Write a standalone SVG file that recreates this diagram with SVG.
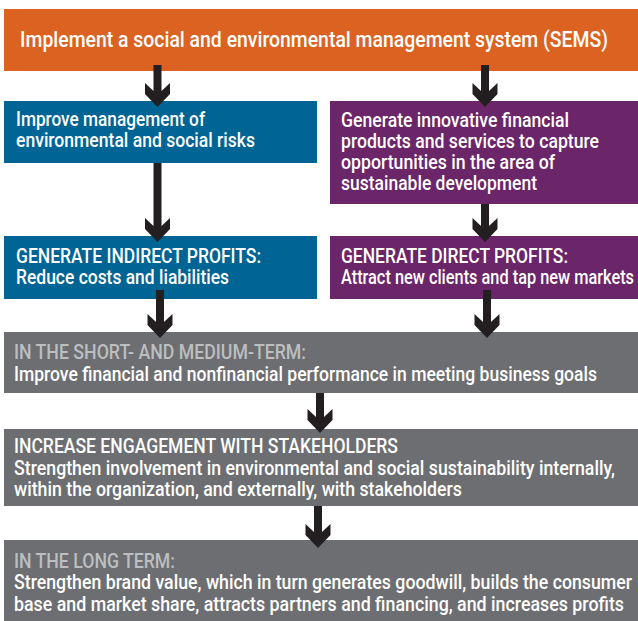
<svg xmlns="http://www.w3.org/2000/svg" width="638" height="621" viewBox="0 0 638 621">
<defs>
<style>
.t{font-family:Roboto,"Liberation Sans",sans-serif;font-size:20px;font-weight:500;fill:#ffffff;}
.h{font-family:Roboto,"Liberation Sans",sans-serif;font-size:20px;font-weight:500;fill:#bcbec0;}
.o{fill:#db6220}.b{fill:#006494}.p{fill:#6b2569}.g{fill:#6d6e71}
.arr{fill:#231f20}
</style>
</defs>
<rect width="638" height="621" fill="#ffffff"/>
<g id="sems">
<rect class="o" x="4" y="9" width="634" height="62"/>
<text class="t" x="20" y="47" style="font-size:22px" textLength="588" lengthAdjust="spacingAndGlyphs">Implement a social and environmental management system (SEMS)</text>
</g>
<g id="risks">
<rect class="b" x="4" y="101" width="313" height="62"/>
<text class="t" x="16" y="126" textLength="189" lengthAdjust="spacingAndGlyphs">Improve management of</text>
<text class="t" x="16" y="147" textLength="239" lengthAdjust="spacingAndGlyphs">environmental and social risks</text>
</g>
<g id="products">
<rect class="p" x="330" y="101" width="308" height="103"/>
<text class="t" x="341" y="127" textLength="228" lengthAdjust="spacingAndGlyphs">Generate innovative financial</text>
<text class="t" x="341" y="148" textLength="258" lengthAdjust="spacingAndGlyphs">products and services to capture</text>
<text class="t" x="341" y="169" textLength="214" lengthAdjust="spacingAndGlyphs">opportunities in the area of</text>
<text class="t" x="341" y="190" textLength="196" lengthAdjust="spacingAndGlyphs">sustainable development</text>
</g>
<g id="indirect">
<rect class="b" x="4" y="236" width="313" height="63"/>
<text class="t" x="16" y="263" textLength="245" lengthAdjust="spacingAndGlyphs">GENERATE INDIRECT PROFITS:</text>
<text class="t" x="16" y="284" textLength="213" lengthAdjust="spacingAndGlyphs">Reduce costs and liabilities</text>
</g>
<g id="direct">
<rect class="p" x="330" y="236" width="308" height="63"/>
<text class="t" x="341" y="263" textLength="227" lengthAdjust="spacingAndGlyphs">GENERATE DIRECT PROFITS:</text>
<text class="t" x="341" y="284" textLength="293" lengthAdjust="spacingAndGlyphs">Attract new clients and tap new markets</text>
</g>
<g id="short">
<rect class="g" x="4" y="332" width="634" height="61"/>
<text class="h" x="14" y="359" textLength="292" lengthAdjust="spacingAndGlyphs">IN THE SHORT- AND MEDIUM-TERM:</text>
<text class="t" x="14" y="381" textLength="583" lengthAdjust="spacingAndGlyphs">Improve financial and nonfinancial performance in meeting business goals</text>
</g>
<g id="engage">
<rect class="g" x="4" y="429" width="634" height="77"/>
<text class="t" x="14" y="453" textLength="384" lengthAdjust="spacingAndGlyphs">INCREASE ENGAGEMENT WITH STAKEHOLDERS</text>
<text class="t" x="14" y="475" textLength="601" lengthAdjust="spacingAndGlyphs">Strengthen involvement in environmental and social sustainability internally,</text>
<text class="t" x="14" y="496" textLength="448" lengthAdjust="spacingAndGlyphs">within the organization, and externally, with stakeholders</text>
</g>
<g id="long">
<rect class="g" x="4" y="540" width="634" height="81"/>
<text class="h" x="14" y="568" textLength="161" lengthAdjust="spacingAndGlyphs">IN THE LONG TERM:</text>
<text class="t" x="14" y="589" textLength="618" lengthAdjust="spacingAndGlyphs">Strengthen brand value, which in turn generates goodwill, builds the consumer</text>
<text class="t" x="14" y="611" textLength="610" lengthAdjust="spacingAndGlyphs">base and market share, attracts partners and financing, and increases profits</text>
</g>
<g id="connectors" class="arr">
<path d="M153.5 65 H161.5 V91 L170 83 V94 L157.5 107 L145 94 V83 L153.5 91 Z"/>
<path d="M481 65 H489 V91 L497.5 83 V94 L485 107 L472.5 94 V83 L481 91 Z"/>
<path d="M153.5 163 H161.5 V226 L170 218 V229 L157.5 242 L145 229 V218 L153.5 226 Z"/>
<path d="M481 204 H489 V226 L497.5 218 V229 L485 242 L472.5 229 V218 L481 226 Z"/>
<path d="M156 290 H164 V322 L172.5 314 V325 L160 338 L147.5 325 V314 L156 322 Z"/>
<path d="M483 290 H491 V322 L499.5 314 V325 L487 338 L474.5 325 V314 L483 322 Z"/>
<path d="M316 393 H324 V417 L332.5 409 V420 L320 433 L307.5 420 V409 L316 417 Z"/>
<path d="M314 506 H322 V532 L330.5 524 V535 L318 548 L305.5 535 V524 L314 532 Z"/>
</g>
</svg>
